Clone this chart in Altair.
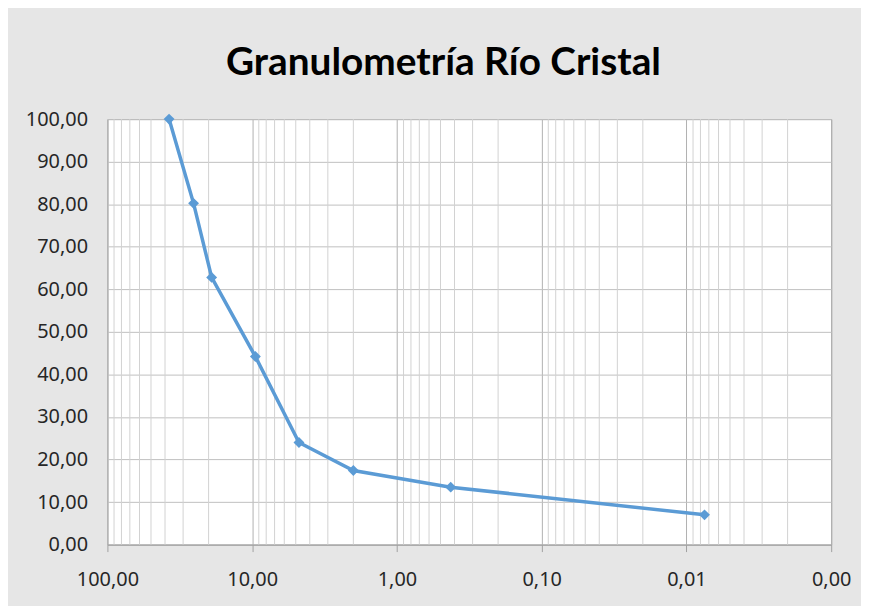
import altair as alt
import pandas as pd

# Data
abertura_mm = [37.5, 25.4, 19.05, 9.5, 4.75, 2.0, 0.425, 0.0075]
pasa_pct = [100.0, 80.2, 62.8, 44.2, 24.0, 17.4, 13.5, 7.0]

x_ticks = [100, 10, 1, 0.1, 0.01, 0.001]
y_ticks = [0, 10, 20, 30, 40, 50, 60, 70, 80, 90, 100]
minor_mult = [2, 3, 4, 5, 6, 7, 8, 9]

df = pd.DataFrame({"abertura": abertura_mm, "pasa": pasa_pct})
minor_vals = [m * d for d in [0.001, 0.01, 0.1, 1, 10] for m in minor_mult]
df_minor = pd.DataFrame({"v": minor_vals})

FONT = "Noto Sans"
TFONT = "Lato"

xscale = alt.Scale(type="log", domain=[0.001, 100], reverse=True, nice=False)
yscale = alt.Scale(domain=[0, 100], nice=False)

lab = "replace(format(datum.value, '.2f'), '.', ',')"

xaxis = alt.Axis(values=x_ticks, labelExpr=lab, grid=True, gridColor="#b0b0b0",
                 tickColor="#a0a0a0", tickSize=7, domainColor="#a0a0a0",
                 labelPadding=18, labelFontSize=20, labelColor="#262626",
                 labelFont=FONT, labelFlush=False, labelOverlap=False)
yaxis = alt.Axis(values=y_ticks, labelExpr=lab, grid=True, gridColor="#c0c0c0",
                 ticks=False, domain=False, labelPadding=20, labelFontSize=20,
                 labelColor="#262626", labelFont=FONT)

minor = alt.Chart(df_minor).mark_rule(color="#d2d2d2", strokeWidth=1).encode(
    x=alt.X("v:Q", scale=xscale, title=None, axis=xaxis)
)

line = alt.Chart(df).mark_line(
    color="#5B9BD5", strokeWidth=3.5,
    point=alt.OverlayMarkDef(shape="diamond", size=120, color="#5B9BD5", filled=True, opacity=1),
).encode(
    x=alt.X("abertura:Q", scale=xscale, title=None, axis=xaxis),
    y=alt.Y("pasa:Q", scale=yscale, title=None, axis=yaxis),
)

chart = alt.layer(minor, line).properties(
    width=728, height=428,
    title=alt.TitleParams("Granulometría Río Cristal", fontSize=39, font=TFONT,
                          fontWeight="bold", color="#000000", anchor="middle",
                          dx=-26, offset=26),
    autosize=alt.AutoSizeParams(type="none"),
    padding={"left": 100, "top": 110, "right": 30, "bottom": 60},
    background="#e6e6e6",
).configure_view(fill="white", stroke="#a0a0a0")

chart.save("out.html", embed_options={"renderer": "svg", "actions": False})
